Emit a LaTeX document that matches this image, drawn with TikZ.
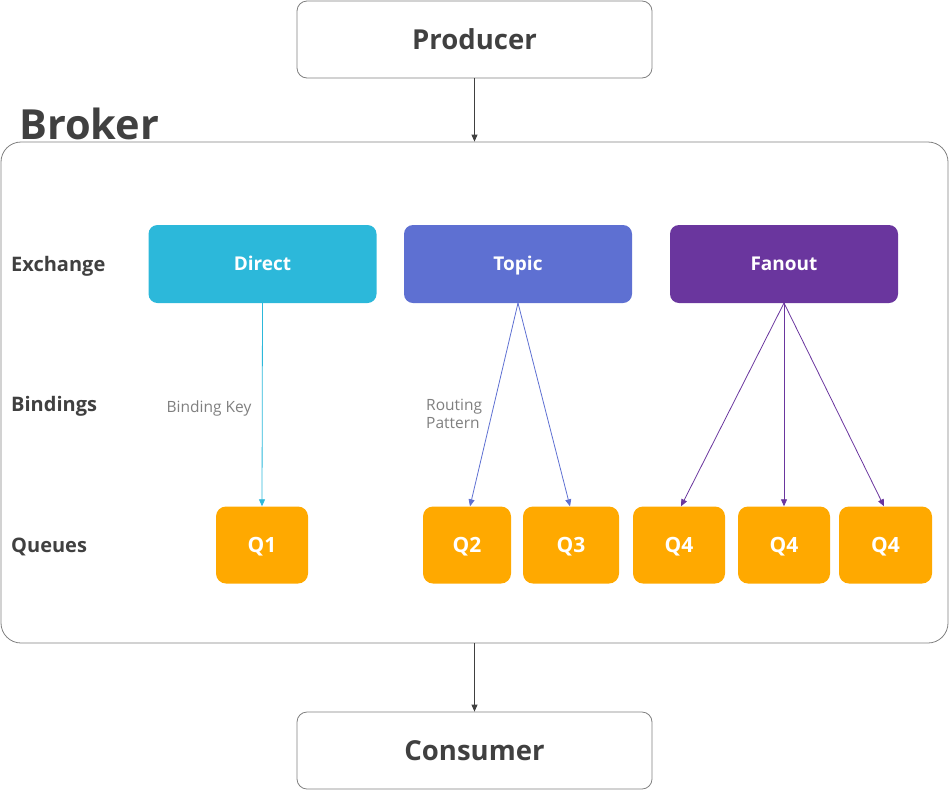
\documentclass[tikz,border=0pt]{standalone}
\usepackage{fontspec}
\setmainfont{Open Sans}
\usetikzlibrary{arrows.meta}
\definecolor{txt}{HTML}{404040}
\definecolor{frame}{HTML}{808080}
\definecolor{cdirect}{HTML}{2CB8DA}
\definecolor{ctopic}{HTML}{5E70D2}
\definecolor{cfanout}{HTML}{6A369E}
\definecolor{cqueue}{HTML}{FFA900}
\definecolor{lbl}{HTML}{7F7F7F}
\tikzset{
  endbox/.style={draw=frame, line width=0.8pt, rounded corners=10pt, fill=white, minimum width=355pt, minimum height=77pt, inner sep=0pt, text=txt, font=\fontsize{27.5}{32}\selectfont\bfseries, text height=19.6pt, text depth=0pt},
  exbox/.style={rounded corners=9pt, minimum width=228pt, minimum height=78pt, inner sep=0pt, text=white, font=\fontsize{19}{23}\selectfont\bfseries, text height=13.6pt, text depth=0pt},
  qbox/.style={fill=cqueue, rounded corners=10pt, minimum height=77pt, inner sep=0pt, text=white, font=\fontsize{21}{25}\selectfont\bfseries, text height=15pt, text depth=0pt},
  rowlbl/.style={anchor=west, inner sep=0pt, text=txt, font=\fontsize{20}{24}\selectfont\bfseries, text height=14.3pt, text depth=0pt},
  bindlbl/.style={inner sep=0pt, text=lbl, font=\fontsize{15.5}{19}\selectfont},
  arr/.style={-{Triangle[length=7pt,width=6pt]}, line width=0.8pt},
}
\begin{document}
\begin{tikzpicture}[x=1pt,y=-1pt]
\useasboundingbox (0,0) rectangle (949,790);
% broker frame
\node[draw=frame, line width=0.8pt, rounded corners=20pt, minimum width=947pt, minimum height=501pt, inner sep=0pt] (broker) at (474.5,392.5) {};
\node[anchor=west, inner sep=0pt, text=txt, font=\fontsize{41.5}{47}\selectfont\bfseries, text height=29.6pt, text depth=0pt] (brokerlbl) at (19,124.5) {Broker};
% producer / consumer
\node[endbox] (producer) at (474.5,39.5) {Producer};
\node[endbox] (consumer) at (474.5,750.5) {Consumer};
\draw[arr, txt] (producer.south) -- (broker.north -| producer.south);
\draw[arr, txt] (broker.south -| consumer.north) -- (consumer.north);
% row labels
\node[rowlbl] (lex) at (11,264.5) {Exchange};
\node[rowlbl] (lbi) at (11,404.5) {Bindings};
\node[rowlbl] (lqu) at (11,545.5) {Queues};
% exchanges
\node[exbox, fill=cdirect] (direct) at (262.5,264) {Direct};
\node[exbox, fill=ctopic] (topic) at (518,264) {Topic};
\node[exbox, fill=cfanout] (fanout) at (784,264) {Fanout};
% queues
\node[qbox, minimum width=92pt] (q1) at (262,545) {Q1};
\node[qbox, minimum width=88pt] (q2) at (467,545) {Q2};
\node[qbox, minimum width=96pt] (q3) at (571,545) {Q3};
\node[qbox, minimum width=92pt] (q4a) at (679,545) {Q4};
\node[qbox, minimum width=92pt] (q4b) at (784,545) {Q4};
\node[qbox, minimum width=93pt] (q4c) at (885.5,545) {Q4};
% bindings
\draw[arr, cdirect] (direct.south) -- (q1.north);
\coordinate (tsrc) at (518,303);
\draw[arr, ctopic] (tsrc) -- ([xshift=3pt]q2.north);
\draw[arr, ctopic] (tsrc) -- ([xshift=-1pt]q3.north);
\coordinate (fsrc) at (784,303);
\draw[arr, cfanout] (fsrc) -- ([xshift=2pt]q4a.north);
\draw[arr, cfanout] (fsrc) -- (q4b.north);
\draw[arr, cfanout] (fsrc) -- ([xshift=-1.5pt]q4c.north);
% binding labels
\node[bindlbl] (bkey) at (209,408) {Binding Key};
\node[bindlbl, anchor=west, align=left] (rpat) at (426,413.5) {Routing\\[-1pt]Pattern};
\end{tikzpicture}
\end{document}
